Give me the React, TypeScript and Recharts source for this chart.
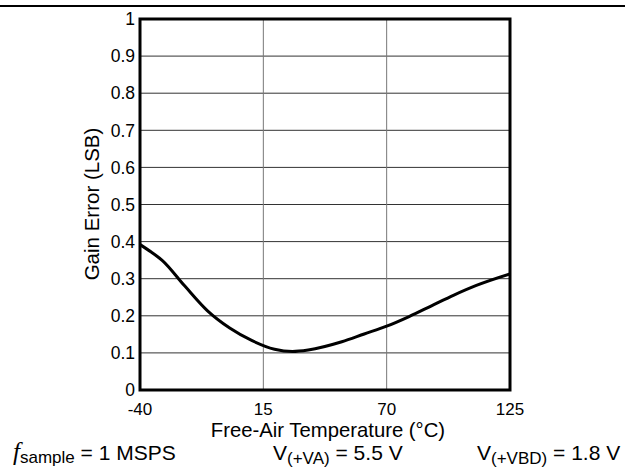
import React from 'react';
import { LineChart, Line, XAxis, YAxis, CartesianGrid, ReferenceArea } from 'recharts';

const temperatures = [-40, -35, -30, -20, -10, 0, 10, 20, 28, 35, 50, 60, 70, 80, 90, 100, 110, 125];
const gainError = [0.392, 0.372, 0.349, 0.28, 0.214, 0.167, 0.133, 0.11, 0.104, 0.108, 0.13, 0.151, 0.172, 0.198, 0.227, 0.256, 0.282, 0.313];
const xTicks = [-40, 15, 70, 125];
const yTicks = [0, 0.1, 0.2, 0.3, 0.4, 0.5, 0.6, 0.7, 0.8, 0.9, 1];

const data = temperatures.map((t, i) => ({ t, g: gainError[i] }));

const FONT = '"Liberation Sans", Arial, sans-serif';

export default function App() {
  return (
    <div style={{ position: 'absolute', left: 0, top: 0, width: 625, height: 473, background: '#fff', fontFamily: FONT }}>
      <LineChart width={625} height={473} data={data} margin={{ top: 19, right: 115, bottom: 53, left: 100 }}>
        <CartesianGrid horizontal={true} vertical={false} stroke="#333" strokeWidth={1} />
        <CartesianGrid horizontal={false} vertical={true} stroke="#777" strokeWidth={1} />
        <XAxis
          dataKey="t"
          type="number"
          domain={[-40, 125]}
          ticks={xTicks}
          tickLine={false}
          axisLine={false}
          tickSize={0}
          tickMargin={13}
          height={30}
          interval={0}
          tick={{ fontSize: 17, fill: '#000', fontFamily: FONT }}
        />
        <YAxis
          type="number"
          domain={[0, 1]}
          ticks={yTicks}
          tickLine={false}
          axisLine={false}
          tickSize={0}
          tickMargin={5}
          width={40}
          interval={0}
          tick={{ fontSize: 17.5, fill: '#000', fontFamily: FONT }}
        />
        <Line
          type="monotone"
          dataKey="g"
          stroke="#000"
          strokeWidth={3}
          dot={false}
          isAnimationActive={false}
        />
        <ReferenceArea x1={-40} x2={125} y1={0} y2={1} fill="none" stroke="#000" strokeWidth={3} ifOverflow="visible" />
      </LineChart>
      <svg width={625} height={473} style={{ position: 'absolute', left: 0, top: 0, pointerEvents: 'none' }}>
        <line x1={0} x2={625} y1={6} y2={6} stroke="#000" strokeWidth={2} />
        <text x={328} y={437} textAnchor="middle" fontSize={20.3} fontFamily={FONT} fill="#000">
          Free-Air Temperature (°C)
        </text>
        <text x={99} y={204} textAnchor="middle" fontSize={20.5} fontFamily={FONT} fill="#000" transform="rotate(-90, 99, 204)">
          Gain Error (LSB)
        </text>
        <text x={13} y={460} fontSize={21} fontFamily={FONT} fill="#000">
          <tspan fontStyle="italic" fontFamily='"Liberation Serif", serif' fontSize={25}>f</tspan>
          <tspan fontSize={17} dy={3}>sample</tspan>
          <tspan dy={-3}> = 1 MSPS</tspan>
        </text>
        <text x={273} y={460} fontSize={21} fontFamily={FONT} fill="#000">
          <tspan>V</tspan>
          <tspan fontSize={17} dy={4}>(+VA)</tspan>
          <tspan dy={-4}> = 5.5 V</tspan>
        </text>
        <text x={477} y={460} fontSize={21} fontFamily={FONT} fill="#000">
          <tspan>V</tspan>
          <tspan fontSize={17} dy={4}>(+VBD)</tspan>
          <tspan dy={-4}> = 1.8 V</tspan>
        </text>
      </svg>
    </div>
  );
}
